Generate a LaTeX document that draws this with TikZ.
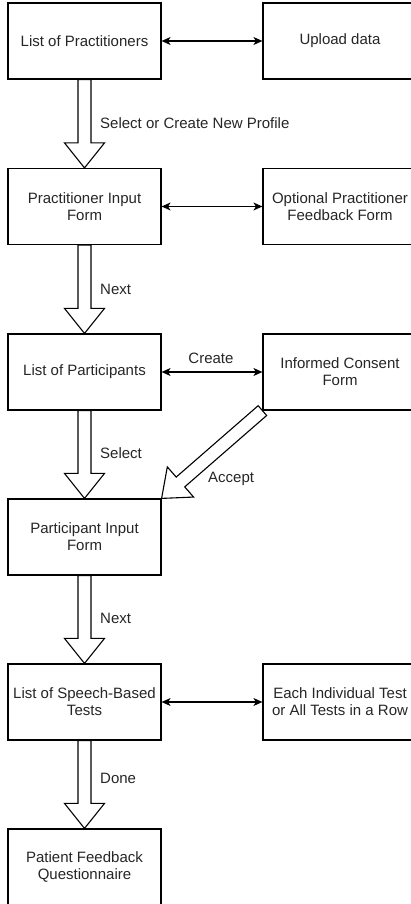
\documentclass[tikz,border=0pt]{standalone}
\usepackage{fontspec}
\setmainfont{Liberation Sans}
\usetikzlibrary{calc,arrows.meta}
\tikzset{
  box/.style={draw, line width=1.2pt, minimum width=153pt, minimum height=76pt,
    align=center, font=\fontsize{15}{17}\selectfont, text=black!85, inner sep=0pt},
  lab/.style={font=\fontsize{15}{17}\selectfont, inner sep=0pt, text=black!85},
  biarrow/.style={line width=1.2pt,
    {Stealth[length=9pt,width=8pt,inset=2.5pt]}-{Stealth[length=9pt,width=8pt,inset=2.5pt]}},
  blockarrow/.style={draw, line width=1.1pt, fill=white, line join=miter}
}
\newcommand\blockarr[2]{%
  \coordinate (ba-h) at ($(#2)!25pt!(#1)$);
  \draw[blockarrow] ($(#1)!6.5pt!90:(#2)$) -- ($(ba-h)!6.5pt!90:(#2)$)
    -- ($(ba-h)!20pt!90:(#2)$) -- (#2) -- ($(ba-h)!20pt!-90:(#2)$)
    -- ($(ba-h)!6.5pt!-90:(#2)$) -- ($(#1)!6.5pt!-90:(#2)$) -- cycle;}
\begin{document}
\begin{tikzpicture}[x=1pt,y=-1pt]
\useasboundingbox (0,0) rectangle (411,904);
\clip (0,0) rectangle (411,904);
\fill[white] (0,0) rectangle (411,904);
% left column
\node[box] (lp)  at (84.5,41)  {List of Practitioners};
\node[box] (pif) at (84.5,206.5) {Practitioner Input\\Form};
\node[box] (lpa) at (84.5,372) {List of Participants};
\node[box] (paf) at (84.5,537) {Participant Input\\Form};
\node[box] (lst) at (84.5,702) {List of Speech-Based\\Tests};
\node[box] (pfq) at (84.5,867) {Patient Feedback\\Questionnaire};
% right column
\node[box, minimum width=154pt] (up)  at (340,41)  {Upload data};
\node[box, minimum width=154pt] (opf) at (340,206.5) {Optional Practitioner\\Feedback Form};
\node[box, minimum width=154pt] (icf) at (340,372) {Informed Consent\\Form};
\node[box, minimum width=154pt] (eit) at (340,702) {Each Individual Test\\or All Tests in a Row};
% horizontal connectors
\draw[biarrow] (lp.east) -- (up.west);
\draw[biarrow] (pif.east) -- (opf.west);
\draw[biarrow] (lpa.east) -- (icf.west);
\draw[biarrow] (lst.east) -- (eit.west);
% block arrows
\blockarr{lp.south}{pif.north}
\blockarr{pif.south}{lpa.north}
\blockarr{lpa.south}{paf.north}
\blockarr{paf.south}{lst.north}
\blockarr{lst.south}{pfq.north}
\blockarr{icf.south west}{paf.north east}
% labels
\node[lab, anchor=west] (l1) at (100,123) {Select or Create New Profile};
\node[lab, anchor=west] (l2) at (100,289) {Next};
\node[lab] (l3) at (211,358) {Create};
\node[lab, anchor=west] (l4) at (100,453) {Select};
\node[lab, anchor=west] (l5) at (208,479) {Accept};
\node[lab, anchor=west] (l6) at (100,618) {Next};
\node[lab, anchor=west] (l7) at (100,778) {Done};
\end{tikzpicture}
\end{document}
